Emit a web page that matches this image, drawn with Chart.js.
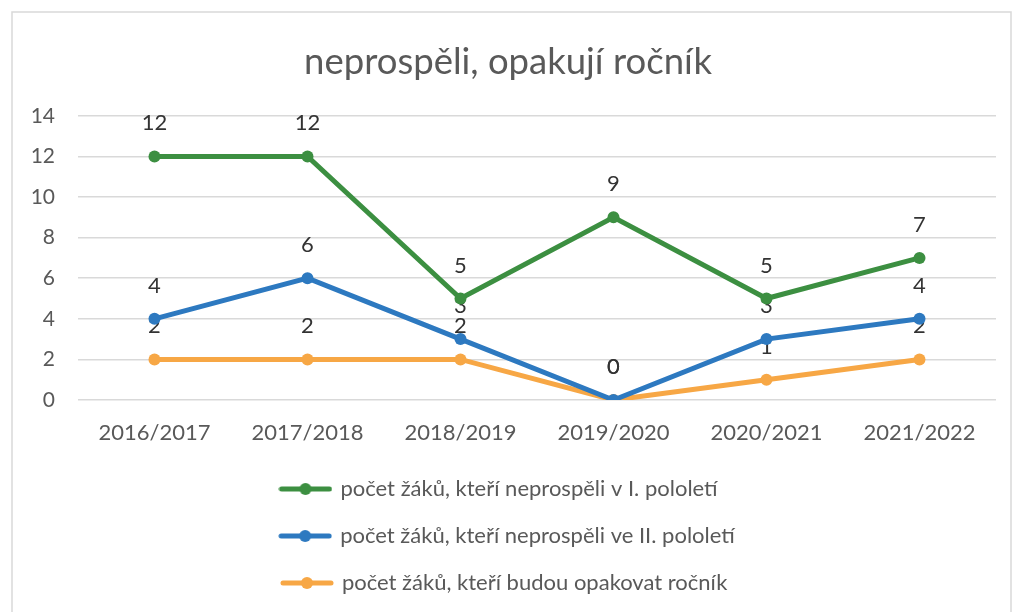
<!DOCTYPE html>
<html>
<head>
<meta charset="utf-8">
<script src="https://cdn.jsdelivr.net/npm/chart.js@4/dist/chart.umd.min.js"></script>
<style>
  html, body { margin: 0; padding: 0; background: #fff; }
  #wrap { width: 1017px; height: 612px; position: relative; }
</style>
</head>
<body>
<div id="wrap"><canvas id="chart"></canvas></div>
<script>
// data
const years = ['2016/2017', '2017/2018', '2018/2019', '2019/2020', '2020/2021', '2021/2022'];
const failedFirst = [12, 12, 5, 9, 5, 7];
const failedSecond = [4, 6, 3, 0, 3, 4];
const repeatYear = [2, 2, 2, 0, 1, 2];
const seriesNames = [
    'počet žáků, kteří neprospěli v I. pololetí',
    'počet žáků, kteří neprospěli ve II. pololetí',
    'počet žáků, kteří budou opakovat ročník'
];
const yTicks = [0, 2, 4, 6, 8, 10, 12, 14];

const green = '#3c8f41';
const blue = '#2d79c0';
const orange = '#f7a745';
const gray = '#595959';

// little line + dot marker for the legend
function legendMarker(color) {
    const c = document.createElement('canvas');
    c.width = 54;
    c.height = 14;
    const ctx = c.getContext('2d');
    ctx.strokeStyle = color;
    ctx.lineWidth = 5;
    ctx.lineCap = 'round';
    ctx.beginPath();
    ctx.moveTo(3, 7);
    ctx.lineTo(51, 7);
    ctx.stroke();
    ctx.fillStyle = color;
    ctx.beginPath();
    ctx.arc(27, 7, 6, 0, Math.PI * 2);
    ctx.fill();
    return c;
}

// value labels above each point, drawn right after its own dataset
const valueLabels = {
    id: 'valueLabels',
    afterDatasetDraw(chart, args) {
        const ctx = chart.ctx;
        const ds = chart.data.datasets[args.index];
        ctx.save();
        ctx.font = '22px Lato';
        ctx.fillStyle = '#333333';
        ctx.textAlign = 'center';
        ctx.textBaseline = 'middle';
        args.meta.data.forEach((pt, i) => {
            ctx.fillText(String(ds.data[i]), pt.x, pt.y - 33);
        });
        ctx.restore();
    }
};

const frame = {
    id: 'frame',
    beforeDraw(chart) {
        const ctx = chart.ctx;
        ctx.save();
        ctx.strokeStyle = '#d9d9d9';
        ctx.lineWidth = 1.5;
        ctx.strokeRect(12, 12, 999, 620);
        ctx.restore();
    }
};

const markers = [legendMarker(green), legendMarker(blue), legendMarker(orange)];

new Chart(document.getElementById('chart').getContext('2d'), {
    type: 'line',
    data: {
        labels: years,
        datasets: [
            { label: seriesNames[0], data: failedFirst, borderColor: green, backgroundColor: green },
            { label: seriesNames[1], data: failedSecond, borderColor: blue, backgroundColor: blue },
            { label: seriesNames[2], data: repeatYear, borderColor: orange, backgroundColor: orange }
        ].map(d => Object.assign(d, {
            borderWidth: 5,
            pointRadius: 6,
            pointHoverRadius: 6,
            pointBorderWidth: 0,
            fill: false,
            tension: 0
        }))
    },
    options: {
        responsive: true,
        maintainAspectRatio: false,
        animation: false,
        layout: { padding: { left: 20, right: 21, top: 20, bottom: 8 } },
        plugins: {
            title: {
                display: true,
                text: 'neprospěli, opakují ročník',
                color: gray,
                font: { family: 'Lato', size: 36.5, weight: 'normal' },
                padding: { top: 20, bottom: 32 }
            },
            legend: {
                position: 'bottom',
                labels: {
                    color: gray,
                    font: { family: 'Lato', size: 22 },
                    padding: 25,
                    usePointStyle: true,
                    pointStyleWidth: 48,
                    generateLabels(chart) {
                        // pad the shorter entries so the rows line up on the left like in Excel
                        const ctx = chart.ctx;
                        ctx.save();
                        ctx.font = '22px Lato';
                        const widest = Math.max(...chart.data.datasets.map(ds => ctx.measureText(ds.label).width));
                        const items = chart.data.datasets.map((ds, i) => {
                            let text = ds.label;
                            while (ctx.measureText(text + ' ').width <= widest + 2) text += ' ';
                            return {
                                text: text,
                                fontColor: gray,
                                pointStyle: markers[i],
                                datasetIndex: i,
                                hidden: false
                            };
                        });
                        ctx.restore();
                        return items;
                    }
                }
            },
            tooltip: { enabled: false }
        },
        scales: {
            x: {
                offset: true,
                grid: { display: false, drawTicks: false, offset: true },
                border: { display: false },
                ticks: { color: gray, font: { family: 'Lato', size: 22 }, padding: 20 },
                afterFit(scale) { scale.height = 53; }
            },
            y: {
                min: 0,
                max: 14,
                afterBuildTicks(scale) { scale.ticks = yTicks.map(v => ({ value: v })); },
                grid: { color: '#d9d9d9', lineWidth: 1.5, drawTicks: false },
                border: { display: false },
                ticks: { color: gray, font: { family: 'Lato', size: 21 }, padding: 23 },
                afterFit(scale) { scale.width = 58; }
            }
        }
    },
    plugins: [frame, valueLabels]
});
</script>
</body>
</html>
